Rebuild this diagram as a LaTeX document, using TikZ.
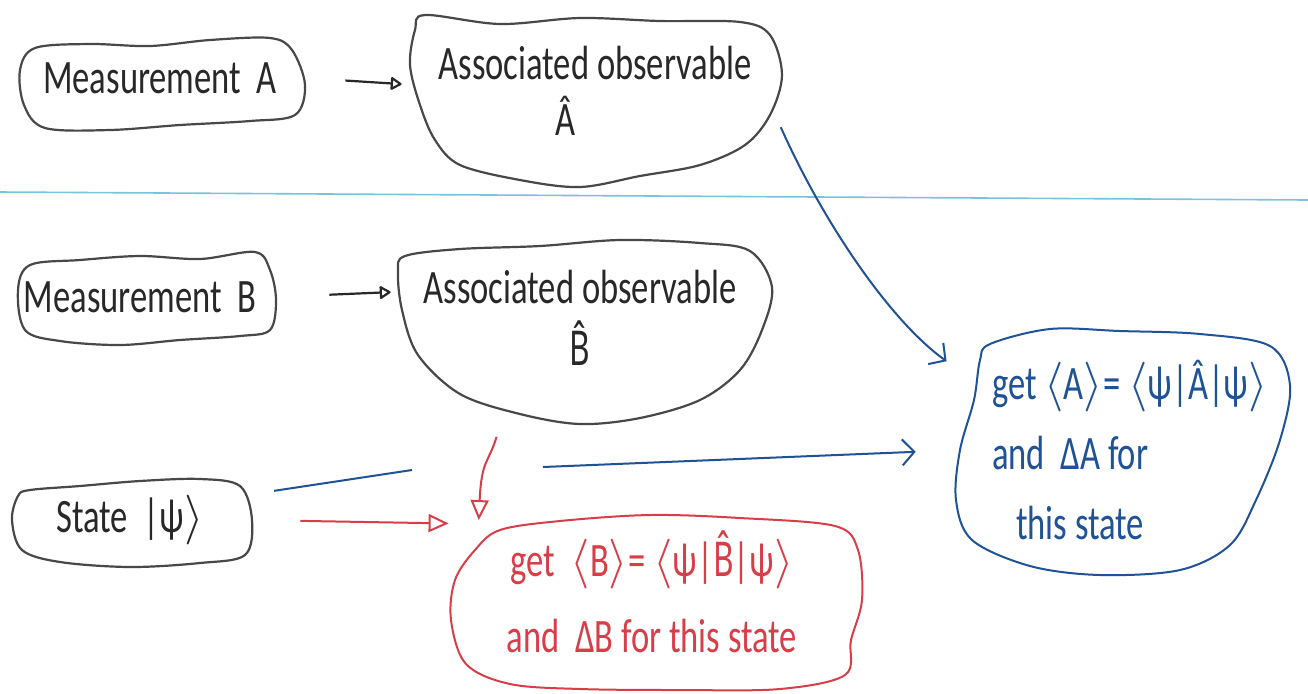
\documentclass[tikz,border=0pt]{standalone}
\usepackage{fontspec}
\setmainfont{Carlito}[FakeStretch=0.72]
\newfontfamily\combfont{Noto Sans}[FakeStretch=0.66]
\usetikzlibrary{arrows.meta}
\definecolor{ink}{RGB}{40,40,40}
\definecolor{redpen}{RGB}{215,62,72}
\definecolor{bluepen}{RGB}{32,82,150}
\definecolor{ruled}{RGB}{120,195,222}
\newcommand{\hatB}{{\combfont B̂}}
\begin{document}
\begin{tikzpicture}[x=0.5pt,y=-0.5pt,
  box/.style={inner sep=0pt, align=center, text=ink, font=\fontsize{24}{30}\selectfont},
  blackline/.style={draw=ink!85, line width=1.1pt},
  redline/.style={draw=redpen, line width=1pt},
  blueline/.style={draw=bluepen, line width=1pt},
  blkarrow/.style={draw=ink, line width=1.1pt, -{Triangle[open, round, length=6pt, width=7pt]}},
  redarrow/.style={draw=redpen, line width=1pt, -{Triangle[open, length=10pt, width=9pt]}},
  bluearrow/.style={draw=bluepen, line width=1pt, -{Straight Barb[length=6pt, width=13pt]}}
]
\useasboundingbox (0,0) rectangle (1308,693);
\fill[white] (0,0) rectangle (1308,693);
% ruled paper line
\draw[ruled, line width=0.8pt] (0,192) -- (1308,200);

% nodes
\node[box, minimum width=145pt, minimum height=46pt] (mA) at (160,78) {Measurement\ \ A};
\node[box, minimum width=187pt, minimum height=90pt, font=\fontsize{24}{28}\selectfont] (aA) at (595,91) {Associated observable\\ \^{A}\hspace*{30pt}};
\node[box, minimum width=135pt, minimum height=48pt] (mB) at (140,297) {Measurement\ \ B};
\node[box, minimum width=185pt, minimum height=105pt, font=\fontsize{24}{31}\selectfont] (aB) at (580,318) {Associated observable\\ \hatB};
\node[box, minimum width=120pt, minimum height=45pt] (st) at (130,520) {State\ \ |ψ$\rangle$};
\node[box, text=redpen, minimum width=211pt, minimum height=87.5pt, font=\fontsize{24}{38}\selectfont] (rB) at (652,592) {get\ \ $\langle$B$\rangle$= $\langle$ψ|\hatB|ψ$\rangle$\\ and\ \ ΔB for this state};
\node[box, align=left, text=bluepen, minimum width=170pt, minimum height=130pt, font=\fontsize{24}{35}\selectfont] (bA) at (1130,450) {get $\langle$A$\rangle$= $\langle$ψ|\^{A}|ψ$\rangle$\\ and\ \ ΔA for\\ \hspace*{12pt}this state};

% outlines
\draw[blackline] plot[smooth cycle, tension=0.55] coordinates {(35,48) (90,44) (150,46) (210,40) (270,38) (292,50) (305,85) (295,115) (250,121) (180,125) (110,130) (45,128) (24,105) (20,70)};
\draw[blackline] plot[smooth cycle, tension=0.55] coordinates {(425,15) (500,24) (580,18) (660,21) (740,22) (770,35) (782,75) (770,115) (745,145) (700,165) (640,176) (580,187) (520,180) (460,165) (435,140) (420,105) (410,65) (415,30)};
\draw[blackline] plot[smooth cycle, tension=0.55] coordinates {(30,265) (80,260) (140,256) (200,259) (255,252) (270,270) (276,300) (270,330) (240,336) (180,340) (120,345) (60,341) (25,330) (18,290)};
\draw[blackline] plot[smooth cycle, tension=0.55] coordinates {(405,256) (460,249) (540,246) (620,240) (700,243) (750,251) (772,287) (762,330) (740,370) (700,400) (640,418) (580,424) (520,414) (460,394) (418,355) (402,310) (398,272)};
\draw[blackline] plot[smooth cycle, tension=0.55] coordinates {(30,490) (80,486) (140,481) (200,479) (240,486) (252,520) (245,555) (200,563) (130,567) (60,562) (22,550) (12,520) (18,496)};
\draw[redline] plot[smooth cycle, tension=0.55] coordinates {(500,530) (560,521) (650,515) (740,518) (835,526) (858,550) (862,600) (851,640) (845,675) (780,689) (680,690) (580,689) (510,684) (466,664) (451,620) (455,580) (475,550)};
\draw[blueline] plot[smooth cycle, tension=0.55] coordinates {(990,344) (1050,329) (1120,331) (1200,334) (1270,346) (1290,385) (1280,440) (1256,500) (1230,545) (1180,570) (1100,575) (1030,566) (972,540) (956,500) (960,450) (974,400) (980,360)};

% connectors
\draw[blkarrow, shorten <=20pt, shorten >=3pt] (mA.east) -- (aA.178);
\draw[blkarrow, shorten <=27pt, shorten >=2pt] (mB.east) -- (aB.172);
\draw[bluearrow, shorten <=-2pt, shorten >=8pt] (aA.-12) .. controls +(40,90) and +(-70,-50) .. (bA.155);
\draw[redarrow, shorten <=7pt, shorten >=-8pt] (aB.233) .. controls +(-12,40) and +(2,-45) .. (rB.153);
\draw[redarrow, shorten <=25pt, shorten >=-4pt] (st.east) -- (rB.162);
\coordinate (gapA) at (412,470);
\coordinate (gapB) at (543,467);
\draw[blueline, shorten <=12pt] (st.12) -- (gapA);
\draw[bluearrow, shorten >=22pt] (gapB) -- (bA.west);
\end{tikzpicture}
\end{document}
